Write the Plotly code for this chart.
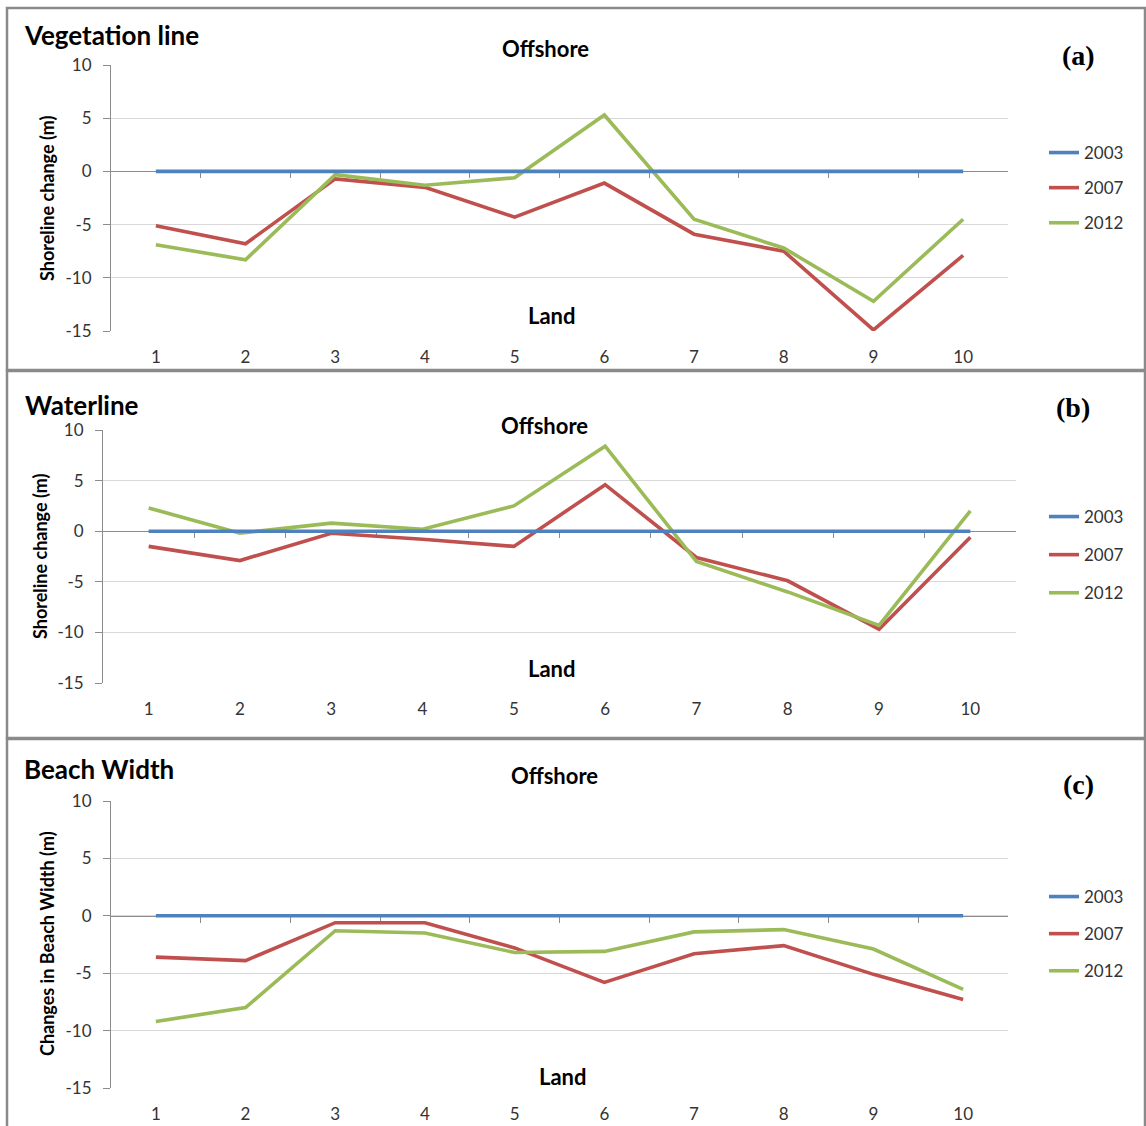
import plotly.graph_objects as go

W, H = 1146, 1126

stations = [1, 2, 3, 4, 5, 6, 7, 8, 9, 10]
years = ["2003", "2007", "2012"]
y_tickvals = [-15, -10, -5, 0, 5, 10]
y_ticktext = ["-15", "-10", "-5", "0", "5", "10"]

veg_2003 = [0, 0, 0, 0, 0, 0, 0, 0, 0, 0]
veg_2007 = [-5.1, -6.8, -0.7, -1.5, -4.3, -1.1, -5.9, -7.5, -14.9, -7.9]
veg_2012 = [-6.9, -8.3, -0.3, -1.3, -0.6, 5.3, -4.5, -7.2, -12.2, -4.5]

wat_2003 = [0, 0, 0, 0, 0, 0, 0, 0, 0, 0]
wat_2007 = [-1.5, -2.9, -0.2, -0.8, -1.5, 4.6, -2.6, -4.9, -9.7, -0.6]
wat_2012 = [2.3, -0.2, 0.8, 0.2, 2.5, 8.4, -3.0, -6.0, -9.3, 2.0]

bw_2003 = [0, 0, 0, 0, 0, 0, 0, 0, 0, 0]
bw_2007 = [-3.6, -3.9, -0.6, -0.6, -2.8, -5.8, -3.3, -2.6, -5.1, -7.3]
bw_2012 = [-9.2, -8.0, -1.3, -1.5, -3.2, -3.1, -1.4, -1.2, -2.9, -6.4]

colors = ["#4F81BD", "#C0504D", "#9BBB59"]
FONT = "Lato, 'Open Sans', sans-serif"


def fx(x):
    return x / W


def fy(y):
    return 1 - y / H


panels = [
    dict(series=[veg_2003, veg_2007, veg_2012], title="Vegetation line", tag="(a)",
         ytitle="Shoreline change (m)", box=(7, 8, 1145, 370), plot=(111, 65, 1008, 331),
         title_pos=(22, 35), off=(545, 48), land=(552, 316), tag_pos=(1078, 55),
         yt=(47, 198), leg=(1044, 135), gap=10),
    dict(series=[wat_2003, wat_2007, wat_2012], title="Waterline", tag="(b)",
         ytitle="Shoreline change (m)", box=(7, 371, 1145, 738), plot=(103, 430, 1016, 683),
         title_pos=(23, 405), off=(544, 425), land=(552, 668), tag_pos=(1073, 407),
         yt=(40, 556), leg=(1044, 499), gap=13),
    dict(series=[bw_2003, bw_2007, bw_2012], title="Beach Width", tag="(c)",
         ytitle="Changes in Beach Width (m)", box=(7, 739, 1145, 1132), plot=(111, 801, 1008, 1088),
         title_pos=(22, 769), off=(554, 775), land=(563, 1076), tag_pos=(1078, 784),
         yt=(47, 944), leg=(1044, 879), gap=12),
]

fig = go.Figure()
layout = dict(width=W, height=H, margin=dict(l=0, r=0, t=0, b=0, autoexpand=False),
              paper_bgcolor="white", plot_bgcolor="white",
              font=dict(family=FONT, color="#333"), shapes=[], annotations=[])

for i, p in enumerate(panels):
    n = i + 1
    xa = "xaxis" if n == 1 else f"xaxis{n}"
    ya = "yaxis" if n == 1 else f"yaxis{n}"
    xr = "x" if n == 1 else f"x{n}"
    yr = "y" if n == 1 else f"y{n}"
    zx = f"xaxis{n + 3}"
    zr = f"x{n + 3}"
    lg = "legend" if n == 1 else f"legend{n}"
    x0, y0, x1, y1 = p["plot"]
    dom_x = [fx(x0), fx(x1)]
    dom_y = [fy(y1), fy(y0)]

    for k, (vals, yr_name, col) in enumerate(zip(p["series"], years, colors)):
        fig.add_trace(go.Scatter(x=stations, y=vals, mode="lines", name=yr_name,
                                 line=dict(color=col, width=3.6),
                                 xaxis=zr if k == 0 else xr, yaxis=yr,
                                 legend=lg, legendgroup=f"{n}-{k}", showlegend=True,
                                 hoverinfo="skip"))

    layout[xa] = dict(domain=dom_x, anchor=yr, range=[0.5, 10.5], tickvals=stations,
                      showgrid=False, zeroline=False, showline=False,
                      ticks="outside", ticklen=11, tickcolor="rgba(0,0,0,0)",
                      tickfont=dict(size=17, color="#333", family=FONT))
    layout[ya] = dict(domain=dom_y, anchor=xr, range=[-15, 10],
                      tickvals=y_tickvals, ticktext=y_ticktext,
                      showgrid=True, gridcolor="#d9d9d9", gridwidth=1,
                      zeroline=False, showline=True, linecolor="#8c8c8c", linewidth=1,
                      ticks="outside", ticklen=7, tickcolor="#8c8c8c", ticklabelstandoff=8,
                      tickfont=dict(size=17, color="#333", family=FONT))
    zero_pos = dom_y[0] + (0 - (-15)) / 25 * (dom_y[1] - dom_y[0])
    layout[zx] = dict(overlaying=xr, anchor="free", position=zero_pos, side="bottom",
                      range=[0.5, 10.5], tickvals=[s + 0.5 for s in stations[:-1]],
                      showticklabels=False, ticks="outside", ticklen=6, tickcolor="#8c8c8c",
                      showline=True, linecolor="#8c8c8c", linewidth=1,
                      showgrid=False, zeroline=False, layer="below traces")

    lx, ly = p["leg"]
    layout[lg] = dict(x=fx(lx), y=fy(ly), xanchor="left", yanchor="top",
                      bgcolor="rgba(0,0,0,0)", tracegroupgap=p["gap"],
                      font=dict(size=17, color="#333", family=FONT), itemwidth=30)

    bx0, by0, bx1, by1 = p["box"]
    layout["shapes"].append(dict(type="rect", xref="paper", yref="paper",
                                 x0=fx(bx0), x1=fx(bx1), y0=fy(by1), y1=fy(by0),
                                 line=dict(color="#8a8a8a", width=2.5)))

    tx, ty = p["title_pos"]
    layout["annotations"].append(dict(text=f"<b>{p['title']}</b>", x=fx(tx), y=fy(ty),
                                      xref="paper", yref="paper", xanchor="left", yanchor="middle",
                                      showarrow=False, font=dict(size=26, color="black", family=FONT)))
    ox, oy = p["off"]
    layout["annotations"].append(dict(text="<b>Offshore</b>", x=fx(ox), y=fy(oy),
                                      xref="paper", yref="paper", xanchor="center", yanchor="middle",
                                      showarrow=False, font=dict(size=22, color="black", family=FONT)))
    lx2, ly2 = p["land"]
    layout["annotations"].append(dict(text="<b>Land</b>", x=fx(lx2), y=fy(ly2),
                                      xref="paper", yref="paper", xanchor="center", yanchor="middle",
                                      showarrow=False, font=dict(size=22, color="black", family=FONT)))
    gx, gy = p["tag_pos"]
    layout["annotations"].append(dict(text=f"<b>{p['tag']}</b>", x=fx(gx), y=fy(gy),
                                      xref="paper", yref="paper", xanchor="center", yanchor="middle",
                                      showarrow=False,
                                      font=dict(size=28, color="black",
                                                family="'Liberation Serif', 'Times New Roman', serif")))
    yx, yy = p["yt"]
    layout["annotations"].append(dict(text=f"<b>{p['ytitle']}</b>", x=fx(yx), y=fy(yy),
                                      xref="paper", yref="paper", xanchor="center", yanchor="middle",
                                      textangle=-90, showarrow=False,
                                      font=dict(size=18, color="black", family=FONT)))

fig.update_layout(**layout)
fig.write_html("out.html")
